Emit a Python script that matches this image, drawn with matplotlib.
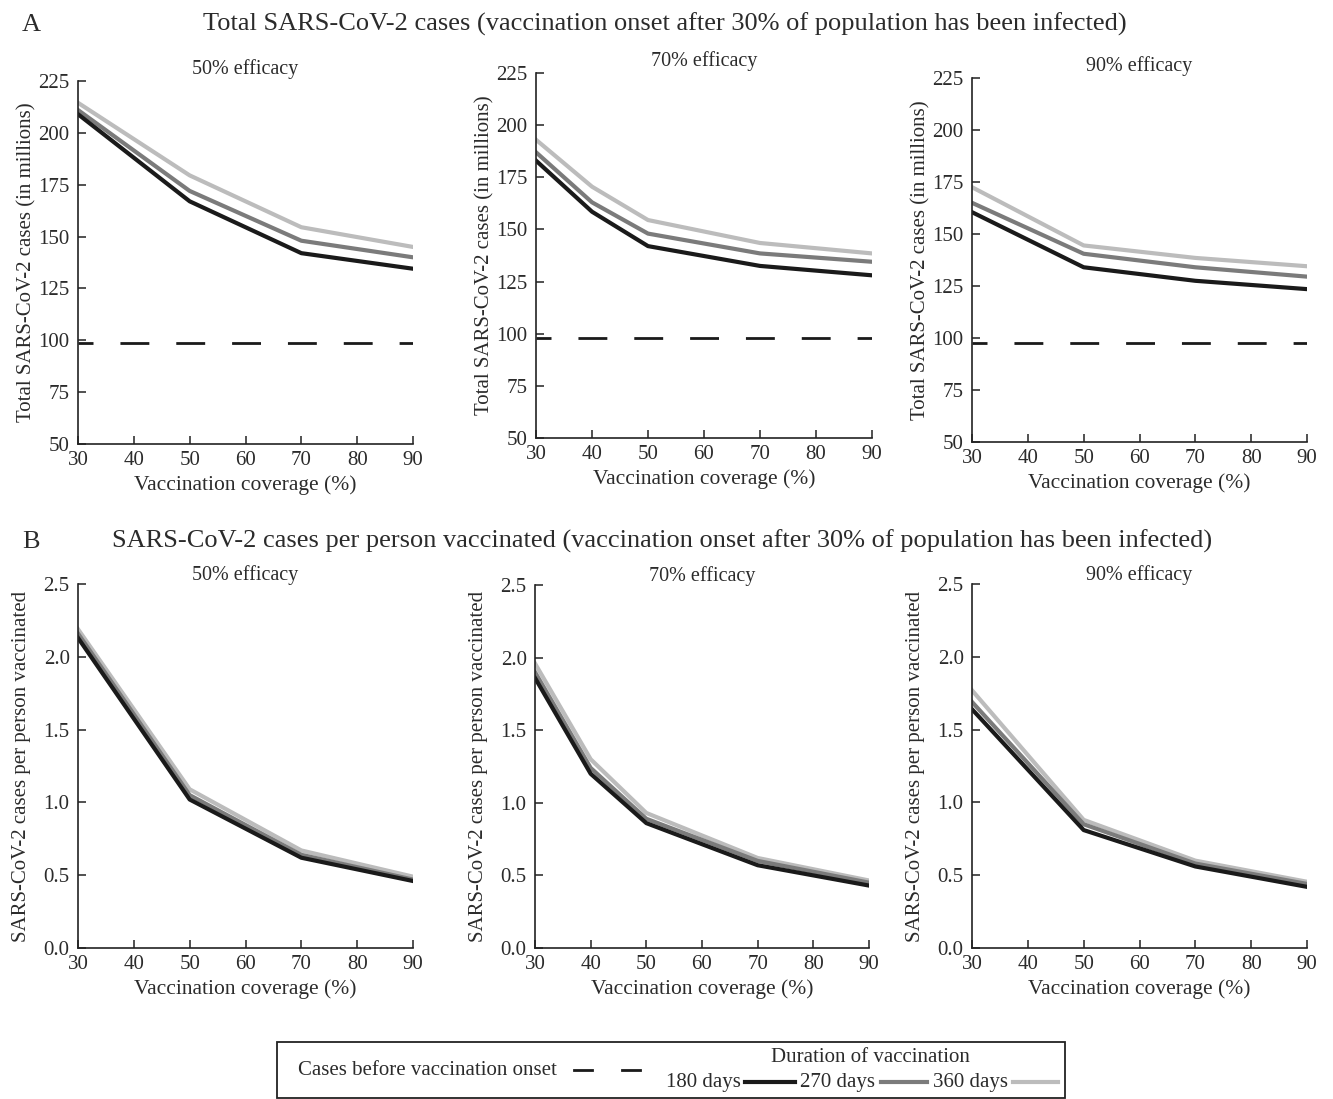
import matplotlib.pyplot as plt
from matplotlib.lines import Line2D
from matplotlib.patches import Rectangle

plt.rcParams['font.family'] = ['Liberation Serif', 'DejaVu Serif']

W, H = 1333, 1099

# data
coverage = {
    "50% efficacy": [30, 50, 70, 90],
    "70% efficacy": [30, 40, 50, 70, 90],
    "90% efficacy": [30, 50, 70, 90],
}
durations = ["180 days", "270 days", "360 days"]

total_50 = {"180 days": [209, 167, 142, 134.5],
            "270 days": [211, 172, 148, 140],
            "360 days": [214.5, 179.5, 154.5, 145]}
total_70 = {"180 days": [183, 158.5, 142, 132.5, 128],
            "270 days": [187, 163, 148, 138.5, 134.5],
            "360 days": [193, 170.5, 154.5, 143.5, 138.5]}
total_90 = {"180 days": [160.5, 134, 127.5, 123.5],
            "270 days": [165, 140.5, 134, 129.5],
            "360 days": [172.5, 144.5, 138.5, 134.5]}
before_onset = [98.5, 98, 97.6]

per_person_50 = {"180 days": [2.13, 1.02, 0.62, 0.46],
                 "270 days": [2.16, 1.05, 0.64, 0.47],
                 "360 days": [2.19, 1.09, 0.67, 0.49]}
per_person_70 = {"180 days": [1.86, 1.20, 0.86, 0.57, 0.43],
                 "270 days": [1.90, 1.24, 0.89, 0.60, 0.45],
                 "360 days": [1.96, 1.30, 0.93, 0.62, 0.465]}
per_person_90 = {"180 days": [1.64, 0.81, 0.56, 0.42],
                 "270 days": [1.69, 0.85, 0.58, 0.44],
                 "360 days": [1.77, 0.88, 0.60, 0.455]}

colors = {"180 days": "#1a1a1a", "270 days": "#7b7b7b", "360 days": "#bcbcbc"}
dash = (5, (10.4, 9.7))
txt = "#2b2b2b"


def px_axes(fig, left, right, top, bottom):
    return fig.add_axes([left / W, 1 - bottom / H, (right - left) / W, (bottom - top) / H])


def style(ax, width_px, ylim, yticks, fmt, ylabel, label_off, title, toff):
    ax.set_xlim(30, 90)
    ax.set_ylim(*ylim)
    ax.set_xticks([30, 40, 50, 60, 70, 80, 90])
    ax.set_yticks(yticks)
    ax.set_yticklabels([fmt.format(v) for v in yticks])
    for s in ["top", "right"]:
        ax.spines[s].set_visible(False)
    for s in ["left", "bottom"]:
        ax.spines[s].set_linewidth(1.2)
        ax.spines[s].set_color("#222222")
    ax.tick_params(direction="in", length=6, width=1.1, labelsize=15, colors="#222222",
                   labelcolor=txt)
    ax.tick_params(axis="y", pad=6)
    ax.tick_params(axis="x", pad=5)
    ax.set_xlabel("Vaccination coverage (%)", fontsize=15.5, labelpad=4, color=txt)
    ax.set_ylabel(ylabel, fontsize=15, color=txt)
    ax.yaxis.set_label_coords(-label_off / width_px, 0.5)
    ax.text(0.5, 1 + toff, title, transform=ax.transAxes, ha="center", va="center",
            fontsize=14.5, color=txt)


fig = plt.figure(figsize=(W / 100, H / 100), dpi=100)

top_boxes = [(78, 413, 81, 444), (536, 872, 73, 438), (972, 1307, 78, 442)]
bot_boxes = [(78, 413, 584, 948), (535, 869, 585, 948), (972, 1307, 584, 948)]
totals = [total_50, total_70, total_90]
per_person = [per_person_50, per_person_70, per_person_90]
titles = list(coverage.keys())

for i, title in enumerate(titles):
    x = coverage[title]
    box = top_boxes[i]
    ax = px_axes(fig, *box)
    ax.plot([30, 90], [before_onset[i]] * 2, color="#1a1a1a", lw=2.0, linestyle=dash)
    for d in reversed(durations):
        ax.plot(x, totals[i][d], color=colors[d], lw=3.0, solid_joinstyle="round")
    style(ax, box[1] - box[0], (50, 225), [50, 75, 100, 125, 150, 175, 200, 225], "{:.0f}",
          "Total SARS-CoV-2 cases (in millions)", 42, title, 0.032)

    box = bot_boxes[i]
    ax = px_axes(fig, *box)
    for d in reversed(durations):
        ax.plot(x, per_person[i][d], color=colors[d], lw=3.0, solid_joinstyle="round")
    style(ax, box[1] - box[0], (0, 2.5), [0.0, 0.5, 1.0, 1.5, 2.0, 2.5], "{:.1f}",
          "SARS-CoV-2 cases per person vaccinated", 47, title, 0.024)

fig.text(22 / W, 1 - 31 / H, "A", fontsize=19, ha="left", va="baseline", color=txt)
fig.text(203 / W, 1 - 31 / H,
         "Total SARS-CoV-2 cases (vaccination onset after 30% of population has been infected)",
         fontsize=19, ha="left", va="baseline", color=txt)
fig.text(22 / W, 1 - 548 / H, "B", fontsize=19, ha="left", va="baseline", color=txt)
fig.text(112 / W, 1 - 548 / H,
         "SARS-CoV-2 cases per person vaccinated (vaccination onset after 30% of population has been infected)",
         fontsize=19, ha="left", va="baseline", color=txt)

# legend box, drawn in pixel-based figure coordinates
lg = fig.add_axes([0, 0, 1, 1], facecolor="none")
lg.set_xlim(0, W)
lg.set_ylim(H, 0)
lg.axis("off")
lg.add_patch(Rectangle((277, 1042), 788, 56, fill=False, lw=1.3, edgecolor="#222222"))
lg.text(298, 1075, "Cases before vaccination onset", fontsize=15, va="baseline", color=txt)
lg.add_line(Line2D([574, 592], [1070, 1070], color="#1a1a1a", lw=2.0))
lg.add_line(Line2D([622, 640], [1070, 1070], color="#1a1a1a", lw=2.0))
lg.text(870, 1062, "Duration of vaccination", fontsize=15, ha="center", va="baseline", color=txt)
lg.text(666, 1087, "180 days", fontsize=15, va="baseline", color=txt)
lg.add_line(Line2D([745, 795], [1082, 1082], color=colors["180 days"], lw=3.0))
lg.text(800, 1087, "270 days", fontsize=15, va="baseline", color=txt)
lg.add_line(Line2D([881, 927], [1082, 1082], color=colors["270 days"], lw=3.0))
lg.text(933, 1087, "360 days", fontsize=15, va="baseline", color=txt)
lg.add_line(Line2D([1013, 1058], [1082, 1082], color=colors["360 days"], lw=3.0))

fig.savefig("out.png", dpi=100)
